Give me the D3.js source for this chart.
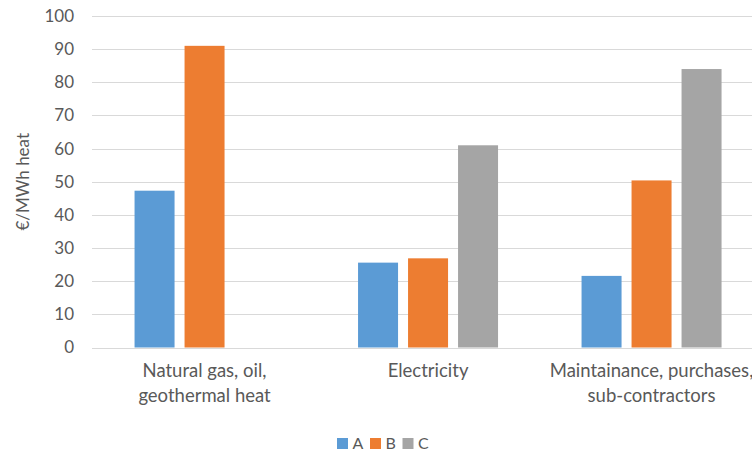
<!DOCTYPE html>
<html>
<head>
<meta charset="utf-8">
<script src="https://cdn.jsdelivr.net/npm/d3@7"></script>
<style>
html,body{margin:0;padding:0;background:#fff;}
svg{display:block;font-family:Lato,"Open Sans",sans-serif;}
</style>
</head>
<body>
<svg id="chart" width="752" height="452"></svg>
<script>
const categories = [["Natural gas, oil,", "geothermal heat"], ["Electricity"], ["Maintainance, purchases,", "sub-contractors"]];
const seriesNames = ["A", "B", "C"];
const seriesA = [47.3, 25.6, 21.6];
const seriesB = [91.0, 26.9, 50.4];
const seriesC = [null, 61.0, 84.0];
const colors = ["#5B9BD5", "#ED7D31", "#A5A5A5"];
const yTicks = [0, 10, 20, 30, 40, 50, 60, 70, 80, 90, 100];
const yLabel = "€/MWh heat";

const series = [seriesA, seriesB, seriesC];
const svg = d3.select("#chart");
const plotLeft = 92, plotTop = 16, plotBottom = 347.5;
const step = 223.5;
const x0 = d3.scaleBand().domain(d3.range(categories.length)).range([92.8, 92.8 + step * categories.length]);
const groupW = 140;
const x1 = d3.scaleBand().domain(seriesNames).range([(step - groupW) / 2, (step + groupW) / 2]).paddingInner(0.2);
const y = d3.scaleLinear().domain([0, 100]).range([plotBottom, plotTop]);
const textCol = "#595959";

// gridlines
svg.append("g").selectAll("line").data(yTicks).join("line")
  .attr("x1", plotLeft).attr("x2", 752)
  .attr("y1", d => Math.round(y(d)) + 0.5).attr("y2", d => Math.round(y(d)) + 0.5)
  .attr("stroke", "#d9d9d9").attr("stroke-width", 1);

// y tick labels
svg.append("g").selectAll("text").data(yTicks).join("text")
  .attr("x", 74).attr("y", d => y(d)).attr("dy", "0.35em")
  .attr("text-anchor", "end").attr("fill", textCol).attr("font-size", 17)
  .text(d => d);

// y label
svg.append("text").attr("transform", `translate(29,${(plotTop + plotBottom) / 2}) rotate(-90)`)
  .attr("text-anchor", "middle").attr("fill", textCol).attr("font-size", 17).text(yLabel);

// bars
const g = svg.append("g");
categories.forEach((c, i) => {
  seriesNames.forEach((s, j) => {
    const v = series[j][i];
    if (v == null) return;
    g.append("rect")
      .attr("x", x0(i) + x1(s)).attr("width", x1.bandwidth())
      .attr("y", y(v)).attr("height", y(0) - y(v))
      .attr("fill", colors[j]);
  });
});

// category labels
const cl = svg.append("g");
categories.forEach((c, i) => {
  const t = cl.append("text").attr("text-anchor", "middle").attr("fill", textCol).attr("font-size", 18.5);
  c.forEach((line, k) => {
    t.append("tspan").attr("x", x0(i) + x0.bandwidth() / 2).attr("y", 377 + k * 24.7).text(line);
  });
});

// legend
const lg = svg.append("g");
const lx = [337, 370, 402.5];
seriesNames.forEach((s, j) => {
  lg.append("rect").attr("x", lx[j]).attr("y", 438).attr("width", 11).attr("height", 11).attr("fill", colors[j]);
  lg.append("text").attr("x", lx[j] + 15.5).attr("y", 443).attr("dy", "0.35em")
    .attr("fill", textCol).attr("font-size", 16).text(s);
});
</script>
</body>
</html>
